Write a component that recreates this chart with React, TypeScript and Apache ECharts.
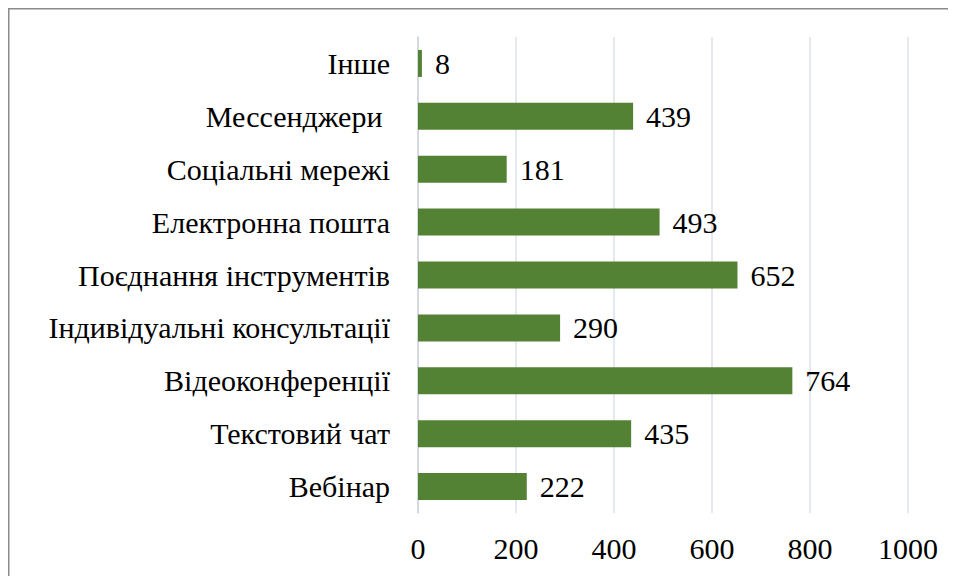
import React, { useEffect, useRef } from "react";
import * as echarts from "echarts";

const categories = [
  "Вебінар",
  "Текстовий чат",
  "Відеоконференції",
  "Індивідуальні консультації",
  "Поєднання інструментів",
  "Електронна пошта",
  "Соціальні мережі",
  "Мессенджери ",
  "Інше",
];
const values = [222, 435, 764, 290, 652, 493, 181, 439, 8];
const xTicks = { min: 0, max: 1000, interval: 200 };

const FONT = "Times New Roman, Liberation Serif, DejaVu Serif, serif";

export default function App() {
  const ref = useRef<HTMLDivElement>(null);
  useEffect(() => {
    if (!ref.current) return;
    const chart = echarts.init(ref.current, null, { renderer: "svg" });
    chart.setOption({
      animation: false,
      backgroundColor: "#ffffff",
      textStyle: { fontFamily: FONT },
      graphic: [
        {
          type: "rect",
          shape: { x: 0.75, y: 0.75, width: 1200, height: 900 },
          style: { fill: "none", stroke: "#8a8a8a", lineWidth: 1.5 },
          silent: true,
        },
      ],
      grid: { left: 410, right: 48, top: 29, bottom: 63, containLabel: false },
      xAxis: {
        type: "value",
        min: xTicks.min,
        max: xTicks.max,
        interval: xTicks.interval,
        axisLine: { show: false },
        axisTick: { show: false },
        splitLine: { show: true, lineStyle: { color: "#dde1ea", width: 1.5 } },
        axisLabel: {
          color: "#000",
          fontFamily: FONT,
          fontSize: 30,
          margin: 20,
          formatter: (v: number) => String(v),
        },
      },
      yAxis: {
        type: "category",
        data: categories,
        axisLine: { show: true, lineStyle: { color: "#cfd3dc", width: 1.5 } },
        axisTick: { show: false },
        axisLabel: { color: "#000", fontFamily: FONT, fontSize: 30, margin: 28 },
      },
      series: [
        {
          type: "bar",
          data: values,
          barWidth: "51%",
          itemStyle: { color: "#548235" },
          label: {
            show: true,
            position: "right",
            distance: 13,
            color: "#000",
            fontFamily: FONT,
            fontSize: 30,
          },
        },
      ],
    });
    return () => chart.dispose();
  }, []);
  return <div ref={ref} style={{ width: 948, height: 568 }} />;
}
